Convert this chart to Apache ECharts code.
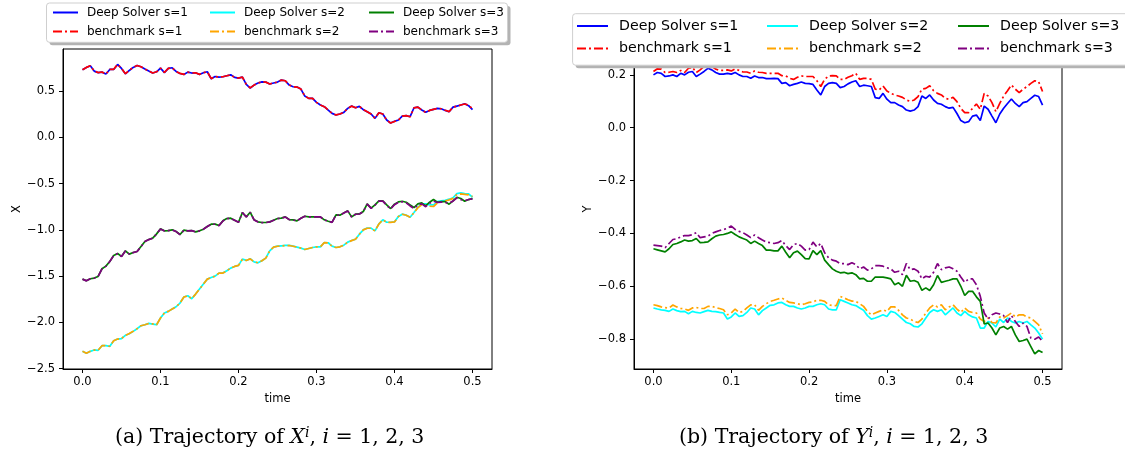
<!DOCTYPE html>
<html>
<head>
<meta charset="utf-8">
<script src="https://cdn.jsdelivr.net/npm/echarts@6/dist/echarts.min.js"></script>
<style>
html,body{margin:0;padding:0;background:#fff;}
#chart{width:1125px;height:452px;}
</style>
</head>
<body>
<div id="chart"></div>
<script>
const time = [0,0.005,0.01,0.015,0.02,0.025,0.03,0.035,0.04,0.045,0.05,0.055,0.06,0.065,0.07,0.075,0.08,0.085,0.09,0.095,0.1,0.105,0.11,0.115,0.12,0.125,0.13,0.135,0.14,0.145,0.15,0.155,0.16,0.165,0.17,0.175,0.18,0.185,0.19,0.195,0.2,0.205,0.21,0.215,0.22,0.225,0.23,0.235,0.24,0.245,0.25,0.255,0.26,0.265,0.27,0.275,0.28,0.285,0.29,0.295,0.3,0.305,0.31,0.315,0.32,0.325,0.33,0.335,0.34,0.345,0.35,0.355,0.36,0.365,0.37,0.375,0.38,0.385,0.39,0.395,0.4,0.405,0.41,0.415,0.42,0.425,0.43,0.435,0.44,0.445,0.45,0.455,0.46,0.465,0.47,0.475,0.48,0.485,0.49,0.495,0.5];

const seriesNames = ['Deep Solver s=1','benchmark s=1','Deep Solver s=2','benchmark s=2','Deep Solver s=3','benchmark s=3'];
const xTicks = [0,0.1,0.2,0.3,0.4,0.5];
const yTicksX = [-2.5,-2.0,-1.5,-1.0,-0.5,0.0,0.5];
const yTicksY = [-0.8,-0.6,-0.4,-0.2,0.0,0.2];
const captionA = ['(a) Trajectory of ','X','i',', ','i',' = 1, 2, 3'];
const captionB = ['(b) Trajectory of ','Y','i',', ','i',' = 1, 2, 3'];

// ---- X trajectories ----
const deepX1 = [0.73,0.755,0.774,0.716,0.70,0.705,0.684,0.734,0.734,0.788,
0.745,0.687,0.723,0.756,0.777,0.763,0.738,0.716,0.695,0.709,
0.748,0.70,0.745,0.752,0.712,0.69,0.68,0.705,0.695,0.698,
0.68,0.698,0.709,0.633,0.658,0.651,0.655,0.666,0.676,0.648,
0.64,0.651,0.572,0.533,0.565,0.587,0.60,0.597,0.576,0.587,
0.597,0.619,0.612,0.565,0.547,0.543,0.522,0.446,0.421,0.421,
0.378,0.349,0.331,0.295,0.259,0.241,0.252,0.27,0.313,0.338,
0.32,0.335,0.299,0.277,0.252,0.205,0.266,0.252,0.187,0.155,
0.173,0.187,0.23,0.234,0.223,0.32,0.327,0.295,0.27,0.291,
0.302,0.313,0.309,0.291,0.277,0.327,0.338,0.349,0.363,0.342,
0.299];
const benchX1 = [0.73,0.756,0.774,0.717,0.70,0.706,0.684,0.735,0.735,0.789,
0.745,0.688,0.724,0.757,0.777,0.763,0.738,0.717,0.696,0.709,
0.748,0.701,0.745,0.752,0.712,0.691,0.68,0.705,0.695,0.698,
0.681,0.698,0.709,0.634,0.658,0.651,0.655,0.666,0.676,0.648,
0.641,0.651,0.573,0.534,0.565,0.587,0.60,0.597,0.577,0.587,
0.597,0.619,0.612,0.566,0.547,0.543,0.522,0.447,0.421,0.421,
0.378,0.35,0.331,0.295,0.26,0.242,0.252,0.27,0.313,0.337,
0.32,0.334,0.3,0.277,0.252,0.206,0.266,0.252,0.187,0.154,
0.172,0.186,0.229,0.234,0.222,0.319,0.326,0.295,0.27,0.291,
0.302,0.313,0.309,0.292,0.278,0.326,0.337,0.349,0.36,0.347,
0.31];
const deepX2 = [-2.314,-2.335,-2.314,-2.299,-2.303,-2.253,-2.253,-2.26,-2.199,-2.181,
-2.177,-2.141,-2.123,-2.098,-2.069,-2.037,-2.026,-2.012,-2.019,-2.026,
-1.954,-1.9,-1.882,-1.857,-1.832,-1.792,-1.727,-1.713,-1.745,-1.695,
-1.641,-1.587,-1.533,-1.515,-1.501,-1.468,-1.468,-1.443,-1.414,-1.396,
-1.385,-1.317,-1.331,-1.313,-1.346,-1.357,-1.335,-1.306,-1.227,-1.187,
-1.177,-1.173,-1.169,-1.169,-1.177,-1.187,-1.198,-1.213,-1.202,-1.191,
-1.184,-1.184,-1.137,-1.14,-1.177,-1.191,-1.184,-1.166,-1.133,-1.116,
-1.101,-1.047,-1.0,-0.982,-0.982,-1.011,-0.936,-0.892,-0.918,-0.918,
-0.914,-0.856,-0.831,-0.842,-0.864,-0.813,-0.756,-0.72,-0.72,-0.73,
-0.73,-0.695,-0.687,-0.68,-0.669,-0.655,-0.608,-0.601,-0.608,-0.612,
-0.648];
const benchX2 = [-2.313,-2.334,-2.314,-2.299,-2.302,-2.253,-2.253,-2.259,-2.199,-2.181,
-2.176,-2.141,-2.122,-2.098,-2.069,-2.037,-2.026,-2.012,-2.018,-2.026,
-1.954,-1.9,-1.882,-1.857,-1.832,-1.792,-1.727,-1.713,-1.745,-1.695,
-1.641,-1.587,-1.533,-1.515,-1.501,-1.468,-1.468,-1.443,-1.414,-1.396,
-1.385,-1.318,-1.331,-1.314,-1.346,-1.357,-1.335,-1.306,-1.228,-1.188,
-1.178,-1.174,-1.17,-1.17,-1.178,-1.188,-1.198,-1.213,-1.202,-1.191,
-1.184,-1.184,-1.138,-1.141,-1.177,-1.191,-1.184,-1.166,-1.134,-1.117,
-1.102,-1.048,-1.001,-0.983,-0.983,-1.012,-0.937,-0.893,-0.919,-0.919,
-0.915,-0.857,-0.832,-0.843,-0.865,-0.815,-0.76,-0.728,-0.735,-0.745,
-0.748,-0.71,-0.698,-0.688,-0.676,-0.66,-0.618,-0.612,-0.616,-0.622,
-0.64];
const deepX3 = [-1.533,-1.551,-1.529,-1.522,-1.504,-1.421,-1.393,-1.342,-1.277,-1.256,
-1.288,-1.227,-1.263,-1.245,-1.234,-1.18,-1.126,-1.105,-1.09,-1.044,
-0.99,-1.011,-1.008,-1.0,-1.018,-1.051,-1.004,-1.011,-1.008,-1.022,
-1.011,-0.993,-0.964,-0.939,-0.939,-0.954,-0.903,-0.878,-0.874,-0.896,
-0.918,-0.813,-0.86,-0.81,-0.892,-0.914,-0.921,-0.921,-0.914,-0.896,
-0.878,-0.874,-0.86,-0.889,-0.892,-0.903,-0.874,-0.853,-0.86,-0.86,
-0.86,-0.86,-0.892,-0.907,-0.918,-0.838,-0.842,-0.817,-0.795,-0.86,
-0.831,-0.828,-0.802,-0.72,-0.766,-0.73,-0.687,-0.687,-0.73,-0.77,
-0.723,-0.698,-0.691,-0.702,-0.73,-0.759,-0.72,-0.709,-0.741,-0.702,
-0.673,-0.702,-0.695,-0.695,-0.723,-0.687,-0.648,-0.662,-0.691,-0.673,
-0.662];
const benchX3 = [-1.533,-1.552,-1.53,-1.523,-1.505,-1.422,-1.394,-1.343,-1.278,-1.257,
-1.289,-1.228,-1.264,-1.246,-1.235,-1.181,-1.127,-1.106,-1.091,-1.045,
-0.991,-1.012,-1.009,-1.001,-1.019,-1.052,-1.005,-1.012,-1.009,-1.023,
-1.012,-0.994,-0.965,-0.94,-0.94,-0.955,-0.904,-0.879,-0.875,-0.897,
-0.919,-0.814,-0.861,-0.811,-0.893,-0.915,-0.922,-0.922,-0.915,-0.897,
-0.879,-0.875,-0.861,-0.89,-0.893,-0.904,-0.875,-0.854,-0.861,-0.861,
-0.861,-0.861,-0.893,-0.908,-0.919,-0.839,-0.843,-0.818,-0.796,-0.861,
-0.832,-0.829,-0.803,-0.722,-0.768,-0.733,-0.69,-0.69,-0.735,-0.775,
-0.728,-0.703,-0.697,-0.708,-0.742,-0.77,-0.73,-0.72,-0.75,-0.712,
-0.69,-0.705,-0.7,-0.705,-0.71,-0.69,-0.655,-0.673,-0.685,-0.672,
-0.665];

// ---- Y trajectories ----
const deepY1 = [0.2,0.209,0.206,0.194,0.196,0.2,0.194,0.206,0.2,0.21,
0.213,0.194,0.203,0.213,0.225,0.219,0.209,0.203,0.203,0.206,
0.203,0.209,0.2,0.194,0.194,0.187,0.196,0.19,0.19,0.186,
0.186,0.187,0.186,0.168,0.171,0.159,0.164,0.168,0.173,0.168,
0.167,0.164,0.143,0.124,0.156,0.168,0.171,0.168,0.152,0.156,
0.166,0.173,0.178,0.156,0.161,0.159,0.156,0.114,0.111,0.13,
0.108,0.095,0.095,0.086,0.08,0.067,0.063,0.067,0.08,0.12,
0.111,0.124,0.105,0.092,0.089,0.08,0.074,0.077,0.054,0.027,
0.019,0.023,0.044,0.048,0.027,0.082,0.07,0.044,0.019,0.052,
0.074,0.092,0.109,0.092,0.08,0.095,0.099,0.111,0.123,0.118,
0.086];
const benchY1 = [0.213,0.223,0.222,0.209,0.21,0.213,0.209,0.217,0.209,0.225,
0.229,0.209,0.219,0.232,0.24,0.232,0.222,0.217,0.217,0.219,
0.215,0.223,0.217,0.211,0.211,0.206,0.215,0.21,0.209,0.206,
0.206,0.206,0.206,0.197,0.196,0.187,0.183,0.191,0.196,0.194,
0.194,0.194,0.178,0.156,0.183,0.196,0.197,0.196,0.183,0.183,
0.191,0.197,0.206,0.183,0.187,0.187,0.183,0.146,0.143,0.158,
0.139,0.13,0.124,0.12,0.115,0.105,0.1,0.105,0.118,0.146,
0.149,0.159,0.14,0.13,0.124,0.111,0.108,0.115,0.099,0.073,
0.057,0.057,0.073,0.09,0.07,0.13,0.12,0.095,0.061,0.092,
0.12,0.14,0.162,0.146,0.133,0.146,0.156,0.168,0.178,0.174,
0.137];
const deepY2 = [-0.682,-0.686,-0.689,-0.691,-0.695,-0.686,-0.692,-0.696,-0.695,-0.704,
-0.695,-0.699,-0.701,-0.696,-0.691,-0.695,-0.696,-0.699,-0.701,-0.724,
-0.716,-0.701,-0.714,-0.711,-0.699,-0.682,-0.686,-0.708,-0.692,-0.682,
-0.672,-0.67,-0.663,-0.661,-0.67,-0.676,-0.676,-0.682,-0.686,-0.682,
-0.676,-0.676,-0.67,-0.666,-0.67,-0.686,-0.689,-0.689,-0.651,-0.657,
-0.663,-0.67,-0.673,-0.682,-0.691,-0.711,-0.724,-0.72,-0.714,-0.708,
-0.714,-0.695,-0.699,-0.711,-0.724,-0.737,-0.742,-0.752,-0.754,-0.742,
-0.72,-0.699,-0.689,-0.695,-0.689,-0.708,-0.695,-0.682,-0.701,-0.711,
-0.695,-0.708,-0.716,-0.72,-0.758,-0.758,-0.733,-0.739,-0.754,-0.724,
-0.737,-0.72,-0.733,-0.739,-0.733,-0.739,-0.733,-0.746,-0.758,-0.777,
-0.8];
const benchY2 = [-0.67,-0.673,-0.678,-0.681,-0.682,-0.671,-0.678,-0.684,-0.686,-0.691,
-0.682,-0.68,-0.684,-0.684,-0.676,-0.676,-0.681,-0.684,-0.689,-0.708,
-0.701,-0.686,-0.699,-0.695,-0.682,-0.67,-0.67,-0.691,-0.676,-0.666,
-0.657,-0.653,-0.648,-0.644,-0.653,-0.661,-0.663,-0.666,-0.67,-0.666,
-0.661,-0.659,-0.653,-0.653,-0.657,-0.67,-0.673,-0.673,-0.638,-0.644,
-0.651,-0.656,-0.657,-0.666,-0.676,-0.695,-0.708,-0.701,-0.695,-0.689,
-0.695,-0.678,-0.678,-0.691,-0.708,-0.72,-0.724,-0.733,-0.737,-0.724,
-0.701,-0.682,-0.67,-0.678,-0.67,-0.689,-0.678,-0.67,-0.686,-0.699,
-0.682,-0.695,-0.699,-0.701,-0.724,-0.733,-0.72,-0.737,-0.739,-0.716,
-0.72,-0.711,-0.701,-0.716,-0.708,-0.708,-0.716,-0.72,-0.733,-0.746,
-0.78];
const deepY3 = [-0.458,-0.462,-0.466,-0.47,-0.458,-0.442,-0.438,-0.432,-0.425,-0.429,
-0.427,-0.419,-0.435,-0.434,-0.432,-0.42,-0.41,-0.406,-0.404,-0.4,
-0.394,-0.404,-0.413,-0.419,-0.425,-0.438,-0.429,-0.438,-0.446,-0.463,
-0.463,-0.466,-0.466,-0.448,-0.471,-0.492,-0.473,-0.467,-0.48,-0.495,
-0.496,-0.465,-0.48,-0.465,-0.501,-0.518,-0.534,-0.543,-0.549,-0.547,
-0.552,-0.549,-0.556,-0.572,-0.57,-0.581,-0.581,-0.565,-0.565,-0.565,
-0.568,-0.572,-0.594,-0.587,-0.6,-0.558,-0.581,-0.578,-0.585,-0.615,
-0.606,-0.616,-0.594,-0.559,-0.585,-0.581,-0.577,-0.572,-0.572,-0.6,
-0.635,-0.619,-0.619,-0.64,-0.657,-0.742,-0.739,-0.758,-0.784,-0.758,
-0.752,-0.762,-0.752,-0.784,-0.809,-0.805,-0.8,-0.828,-0.856,-0.843,
-0.851];
const benchY3 = [-0.444,-0.446,-0.448,-0.454,-0.438,-0.423,-0.42,-0.413,-0.408,-0.408,
-0.405,-0.397,-0.416,-0.413,-0.41,-0.4,-0.394,-0.389,-0.385,-0.381,
-0.372,-0.385,-0.392,-0.397,-0.406,-0.416,-0.406,-0.416,-0.425,-0.433,
-0.435,-0.438,-0.435,-0.427,-0.446,-0.461,-0.442,-0.438,-0.448,-0.463,
-0.461,-0.433,-0.451,-0.438,-0.473,-0.492,-0.501,-0.505,-0.514,-0.514,
-0.518,-0.511,-0.518,-0.534,-0.527,-0.539,-0.534,-0.522,-0.522,-0.524,
-0.53,-0.534,-0.547,-0.543,-0.556,-0.514,-0.537,-0.534,-0.543,-0.572,
-0.562,-0.565,-0.547,-0.514,-0.537,-0.53,-0.527,-0.534,-0.543,-0.565,
-0.585,-0.572,-0.572,-0.594,-0.638,-0.701,-0.724,-0.708,-0.701,-0.705,
-0.711,-0.737,-0.711,-0.733,-0.752,-0.739,-0.752,-0.796,-0.8,-0.792,
-0.809];

const colors = ['#0000ff','#ff0000','#00ffff','#ffa500','#008000','#800080'];
const dashDot = [9,3,2,3];
const FONT = 'DejaVu Sans';
const SERIF = 'DejaVu Serif';

const chart = echarts.init(document.getElementById('chart'), null, {renderer:'canvas'});

function fmt(v){ return v.toFixed(1).replace('-', '\u2212'); }
function pairs(arr){ return time.map((t,i)=>[t, arr[i]]); }

const xData = [deepX1, benchX1, deepX2, benchX2, deepX3, benchX3];
const yData = [deepY1, benchY1, deepY2, benchY2, deepY3, benchY3];

function mkSeries(dataArr, axisIdx){
  return dataArr.map((arr,k)=>({
    type:'line', name:seriesNames[k], xAxisIndex:axisIdx, yAxisIndex:axisIdx,
    data:pairs(arr), symbol:'none', showSymbol:false, animation:false,
    lineStyle:{color:colors[k], width:1.7, type: (k%2===1)? dashDot : 'solid'},
    itemStyle:{color:colors[k]}, z: 2 + k*0.01
  }));
}

function xAxisCfg(idx){
  return {
    type:'value', gridIndex:idx, min:-0.025, max:0.525,
    name:'time', nameLocation:'middle', nameGap:24,
    nameTextStyle:{fontFamily:FONT, fontSize:11.5, color:'#000'},
    axisLine:{show:true, onZero:false, lineStyle:{color:'#000', width:1}},
    axisTick:{show:true, inside:false, length:4, lineStyle:{color:'#000', width:1}, customValues:xTicks},
    axisLabel:{color:'#000', fontFamily:FONT, fontSize:11.5, margin:7, formatter:fmt, customValues:xTicks},
    splitLine:{show:false}
  };
}
function yAxisCfg(idx, name, min, max, ticks, gap){
  return {
    type:'value', gridIndex:idx, min:min, max:max,
    name:name, nameLocation:'middle', nameGap:gap,
    nameTextStyle:{fontFamily:FONT, fontSize:11.5, color:'#000'},
    axisLine:{show:true, onZero:false, lineStyle:{color:'#000', width:1}},
    axisTick:{show:true, inside:false, length:4, lineStyle:{color:'#000', width:1}, customValues:ticks},
    axisLabel:{color:'#000', fontFamily:FONT, fontSize:11.5, margin:8, formatter:fmt, customValues:ticks},
    splitLine:{show:false}
  };
}

function legendCol(left, top, names, fs, iw, ih, gap, pad){
  return {
    orient:'vertical', left:left, top:top, padding:0, itemGap:gap,
    itemWidth:iw, itemHeight:ih, data:names, selectedMode:false, z:30,
    itemStyle:{opacity:0},
    textStyle:{fontFamily:FONT, fontSize:fs, color:'#000', padding:[0,0,0,pad]}
  };
}

function caption(x, y, parts){
  return {
    type:'text', left:x, top:y, z:40,
    style:{
      text:'{r|'+parts[0]+'}{it|'+parts[1]+'}{sup|'+parts[2]+'}{r|'+parts[3]+'}{it|'+parts[4]+'}{r|'+parts[5]+'}',
      rich:{
        r:{fontFamily:SERIF, fontSize:20.5, color:'#000', lineHeight:24},
        it:{fontFamily:SERIF, fontSize:20.5, fontStyle:'italic', color:'#000', lineHeight:24},
        sup:{fontFamily:SERIF, fontSize:14, fontStyle:'italic', color:'#000', lineHeight:14, verticalAlign:'top'}
      }
    }
  };
}

const option = {
  backgroundColor:'#fff',
  animation:false,
  grid:[
    {left:63, top:49, width:429, height:320, show:true, borderColor:'#000', borderWidth:1, backgroundColor:'transparent', containLabel:false},
    {left:634, top:49, width:428, height:320, show:true, borderColor:'#000', borderWidth:1, backgroundColor:'transparent', containLabel:false}
  ],
  xAxis:[xAxisCfg(0), xAxisCfg(1)],
  yAxis:[
    yAxisCfg(0, 'X', -2.505, 0.955, yTicksX, 40),
    yAxisCfg(1, 'Y', -0.913, 0.298, yTicksY, 40)
  ],
  legend:[
    legendCol(52, 6.5, [seriesNames[0], seriesNames[1]], 12, 25, 12, 7, 4),
    legendCol(209, 6.5, [seriesNames[2], seriesNames[3]], 12, 25, 12, 7, 4),
    legendCol(368, 6.5, [seriesNames[4], seriesNames[5]], 12, 25, 12, 7, 4),
    legendCol(576, 19, [seriesNames[0], seriesNames[1]], 14.2, 31, 14, 8.6, 6),
    legendCol(766, 19, [seriesNames[2], seriesNames[3]], 14.2, 31, 14, 8.6, 6),
    legendCol(957, 19, [seriesNames[4], seriesNames[5]], 14.2, 31, 14, 8.6, 6)
  ],
  graphic:[
    {type:'rect', z:20, shape:{x:49.5, y:6, width:461, height:39.3, r:3}, style:{fill:'#b3b3b3'}},
    {type:'rect', z:21, shape:{x:46.5, y:3, width:461, height:39.3, r:3}, style:{fill:'#fff', stroke:'#cfcfcf', lineWidth:1}},
    {type:'rect', z:20, shape:{x:575.6, y:16.7, width:600, height:51.5, r:3}, style:{fill:'#b3b3b3'}},
    {type:'rect', z:21, shape:{x:572.6, y:13.7, width:600, height:51.5, r:3}, style:{fill:'#fff', stroke:'#cfcfcf', lineWidth:1}},
    caption(115, 426, captionA),
    caption(679, 426, captionB)
  ],
  series:[].concat(mkSeries(xData,0), mkSeries(yData,1))
};
chart.setOption(option);
</script>
</body>
</html>
